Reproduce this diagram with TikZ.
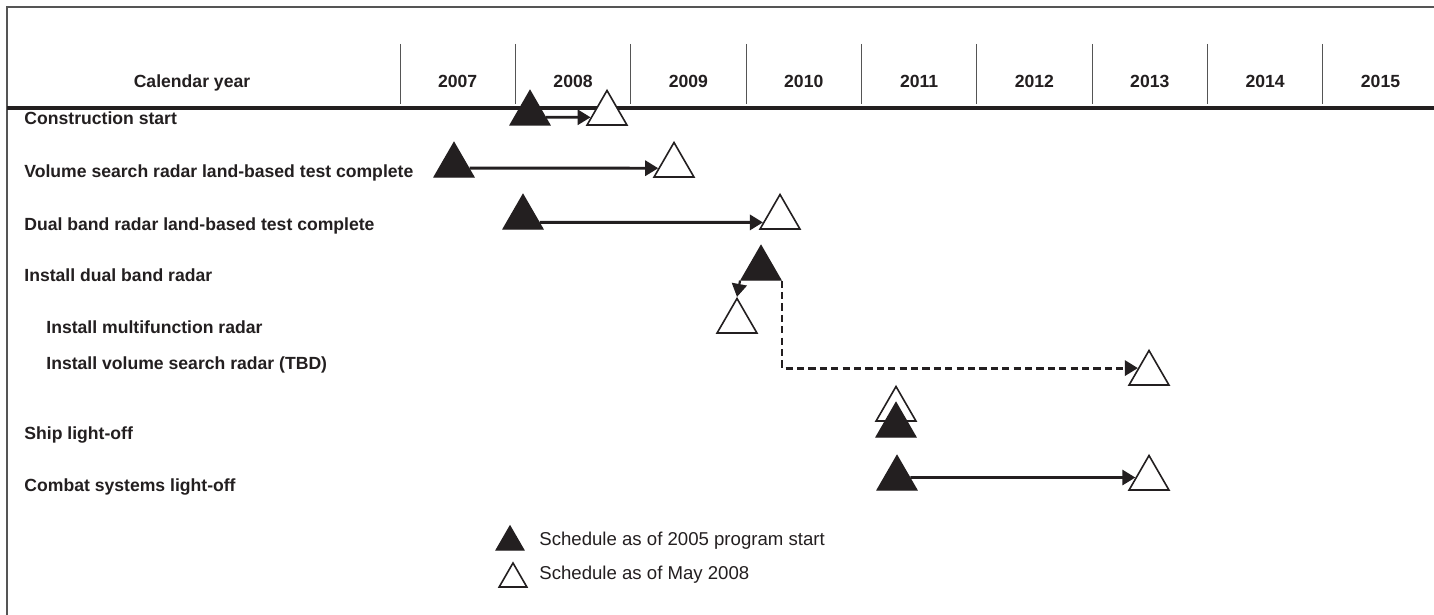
\documentclass[tikz,border=0pt]{standalone}
\usepackage{fontspec}
\setmainfont{Liberation Sans}
\usepackage{tikz}
\usetikzlibrary{shapes.geometric, arrows.meta, positioning, calc}
\usepackage{xcolor}
\definecolor{ink}{HTML}{231F20}
\definecolor{rulegray}{HTML}{555555}
\tikzstyle{rowtext} = [anchor=base west, inner sep=0pt, text=ink, font=\fontsize{8.8}{10}\selectfont\bfseries]
\tikzstyle{yeartext} = [anchor=base, inner sep=0pt, text=ink, font=\fontsize{8.8}{10}\selectfont\bfseries]
\tikzstyle{legtext} = [anchor=base west, inner sep=0pt, text=ink, font=\fontsize{9.3}{11}\selectfont]
\tikzstyle{sched05} = [regular polygon, regular polygon sides=3, minimum size=23pt, inner sep=0pt, draw=ink, fill=ink, line width=0.6pt]
\tikzstyle{sched08} = [regular polygon, regular polygon sides=3, minimum size=23pt, inner sep=0pt, draw=ink, fill=white, line width=0.8pt]
\tikzstyle{arrow} = [line width=1.45pt, draw=ink, -{Triangle[length=6.5pt,width=7.5pt]}]
\tikzstyle{tbdarrow} = [arrow, dash pattern=on 3.6pt off 2.1pt]

\begin{document}
\begin{tikzpicture}[x=0.5pt, y=-0.5pt, node distance=0.5cm]
    \useasboundingbox (0,0) rectangle (1434,615);
    \fill[white] (0,0) rectangle (1434,615);

    % frame and header
    \draw[rulegray, line width=1pt] (1434,7) -- (7,7) -- (7,615);
    \draw[ink, line width=1.6pt] (7,108) -- (1434,108);
    \node[yeartext] (cal) at (192,88) {Calendar year};
    \foreach \yr [count=\i from 0] in {2007,...,2015} {
        \draw[rulegray, line width=0.5pt] (400+115.35*\i,44) -- (400+115.35*\i,104);
        \node[yeartext] (y\yr) at (457.7+115.35*\i,88) {\yr};
    }

    \node[rowtext] (lcon) at (24,125) {Construction start};
    \node[rowtext] (lvsr) at (24,177) {Volume search radar land-based test complete};
    \node[rowtext] (ldbr) at (24,230) {Dual band radar land-based test complete};
    \node[rowtext] (linst) at (24,281) {Install dual band radar};
    \node[rowtext] (lmfr) at (46,333) {Install multifunction radar};
    \node[rowtext] (lvol) at (46,369) {Install volume search radar (TBD)};
    \node[rowtext] (lship) at (24,439) {Ship light-off};
    \node[rowtext] (lcomb) at (24,491) {Combat systems light-off};

    \node[sched05] (f1) at (530,113.5) {};
    \node[sched08] (o1) at (607,113.5) {};
    \node[sched05] (f2) at (454,165.5) {};
    \node[sched08] (o2) at (674,165.5) {};
    \node[sched05] (f3) at (523,217.5) {};
    \node[sched08] (o3) at (780,217.5) {};
    \node[sched05] (f4) at (761,268.5) {};
    \node[sched08] (o5) at (737,321.5) {};
    \node[sched08] (o6) at (1149,373.5) {};
    \node[sched08] (o7) at (896,409.5) {};
    \node[sched05] (f7) at (896,425.5) {};
    \node[sched05] (f8) at (897,478.5) {};
    \node[sched08] (o8) at (1149,478.5) {};

    \foreach \a/\b/\t in {f1/o1/0.23, f2/o2/0.26, f3/o3/0.2, f8/o8/0.36} {
        \draw[arrow] ($(\a.corner 3)!\t!(\a.corner 1)$) -- ($(\b.corner 2)!\t!(\b.corner 1)$);
    }
    \draw[arrow, line width=1.1pt] (f4.corner 2) -- (o5.corner 1);
    \draw[tbdarrow] (f4.corner 3) |- ($(o6.corner 2)!0.48!(o6.corner 1)$);

    % legend
    \node[sched05, minimum size=16pt] (legf) at (510,542) {};
    \node[sched08, minimum size=16pt] (lego) at (513,579) {};
    \node[legtext] (legft) at (539,545) {Schedule as of 2005 program start};
    \node[legtext] (legot) at (539,579) {Schedule as of May 2008};
\end{tikzpicture}
\end{document}
